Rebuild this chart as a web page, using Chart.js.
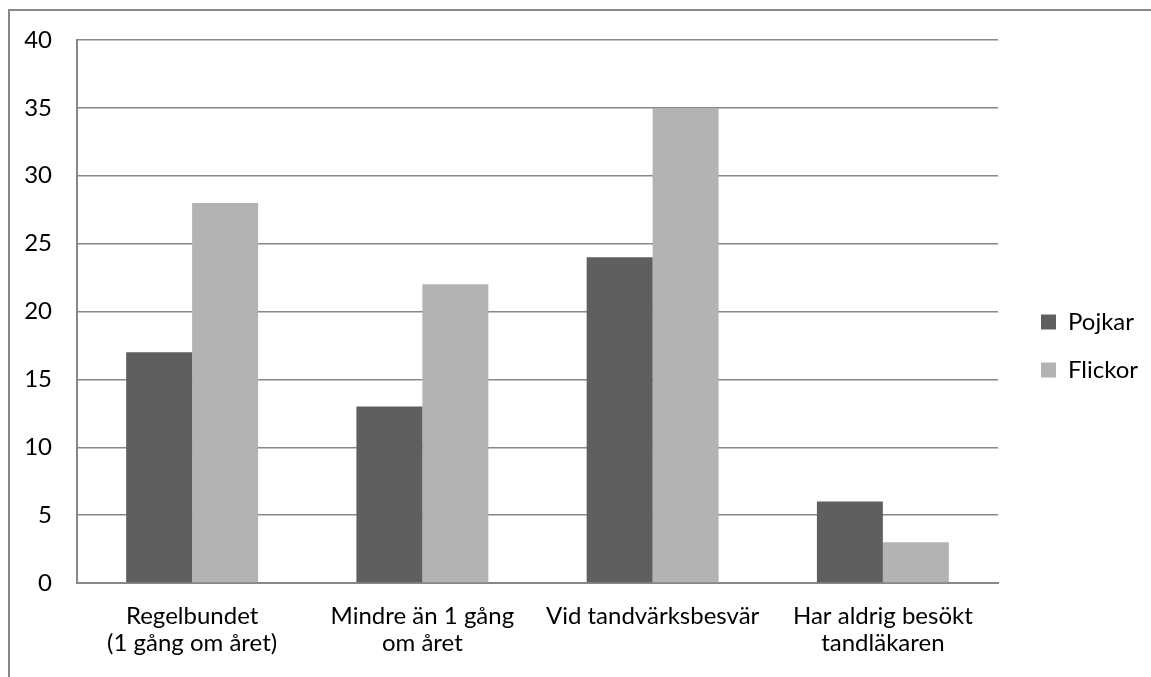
<!DOCTYPE html>
<html lang="sv">
<head>
<meta charset="utf-8">
<title>Tandläkarbesök</title>
<script src="https://cdn.jsdelivr.net/npm/chart.js@4/dist/chart.umd.min.js"></script>
<style>
  html, body { margin: 0; padding: 0; background: #fff; }
  #wrap { width: 1151px; height: 677px; position: relative; }
</style>
</head>
<body>
<div id="wrap"><canvas id="c" width="1151" height="677"></canvas></div>
<script>
// Hur ofta besöker du tandläkaren?
const categories = [
  ['Regelbundet', '(1 gång om året)'],
  ['Mindre än 1 gång', 'om året'],
  'Vid tandvärksbesvär',
  ['Har aldrig besökt', 'tandläkaren']
];
const seriesNames = ['Pojkar', 'Flickor'];
const pojkar = [17, 13, 24, 6];
const flickor = [28, 22, 35, 3];
const yTicks = [0, 5, 10, 15, 20, 25, 30, 35, 40];

const GRID = '#878787';
const FONT = 'Lato, "Open Sans", "Liberation Sans", sans-serif';
const FS = 24;

// Layout targets for plot area and legend
const PLOT_LEFT = 77, PLOT_RIGHT = 998, PLOT_TOP = 40, PLOT_BOTTOM = 583;
const LEGEND_X = 1041, LEGEND_FIRST_Y = 322;

const framePlugin = {
  id: 'frame',
  beforeDraw(chart) {
    const ctx = chart.ctx;
    ctx.save();
    ctx.fillStyle = '#fff';
    ctx.fillRect(0, 0, chart.width, chart.height);
    ctx.strokeStyle = GRID;
    ctx.lineWidth = 2;
    ctx.strokeRect(9, 10, chart.width + 40, chart.height + 40);
    ctx.restore();
  }
};

const legendPlace = {
  id: 'legendPlace',
  afterLayout(chart) {
    const lg = chart.legend;
    if (!lg) return;
    const pad = lg.options.labels.padding;
    const fs = lg.options.labels.font.size;
    const w = lg.right - lg.left, h = lg.bottom - lg.top;
    lg.left = LEGEND_X - pad;
    lg.right = lg.left + w;
    lg.top = LEGEND_FIRST_Y - pad - fs / 2;
    lg.bottom = lg.top + h;
  }
};

function build() {
  Chart.defaults.font.family = FONT;
  Chart.defaults.font.size = FS;
  Chart.defaults.color = '#000';

  const chart = new Chart(document.getElementById('c'), {
    type: 'bar',
    data: {
      labels: categories,
      datasets: [
        { label: seriesNames[0], data: pojkar, backgroundColor: '#5f5f5f', borderWidth: 0 },
        { label: seriesNames[1], data: flickor, backgroundColor: '#b3b3b3', borderWidth: 0 }
      ]
    },
    options: {
      responsive: false,
      animation: false,
      events: [],
      layout: { padding: { left: 0, top: PLOT_TOP, right: 0, bottom: 0 } },
      datasets: { bar: { categoryPercentage: 0.573, barPercentage: 1.0 } },
      plugins: {
        tooltip: { enabled: false },
        legend: {
          position: 'right',
          align: 'start',
          labels: {
            boxWidth: 15,
            boxHeight: 15,
            padding: 24,
            color: '#000',
            font: { family: FONT, size: FS }
          }
        }
      },
      scales: {
        x: {
          grid: { display: false, drawTicks: false },
          border: { display: true, color: GRID, width: 2 },
          ticks: {
            maxRotation: 0,
            autoSkip: false,
            padding: 20,
            font: { family: FONT, size: FS, lineHeight: 1.13 }
          },
          afterFit(s) { s.height = 677 - PLOT_BOTTOM; }
        },
        y: {
          min: 0,
          max: 40,
          grid: { color: GRID, lineWidth: 1.5, drawTicks: false },
          border: { display: true, color: GRID, width: 2 },
          afterBuildTicks(s) { s.ticks = yTicks.map(v => ({ value: v })); },
          ticks: { padding: 25, font: { family: FONT, size: FS } },
          afterFit(s) { s.width = PLOT_LEFT; }
        }
      }
    },
    plugins: [framePlugin, legendPlace]
  });

  // Fit the right padding so the plot area ends where the legend column begins
  const diff = chart.chartArea.right - PLOT_RIGHT;
  if (Math.abs(diff) > 0.5) {
    chart.options.layout.padding.right += diff;
    chart.update();
  }
}

if (document.fonts && document.fonts.load) {
  document.fonts.load(FS + 'px Lato').then(build, build);
} else {
  build();
}
</script>
</body>
</html>
